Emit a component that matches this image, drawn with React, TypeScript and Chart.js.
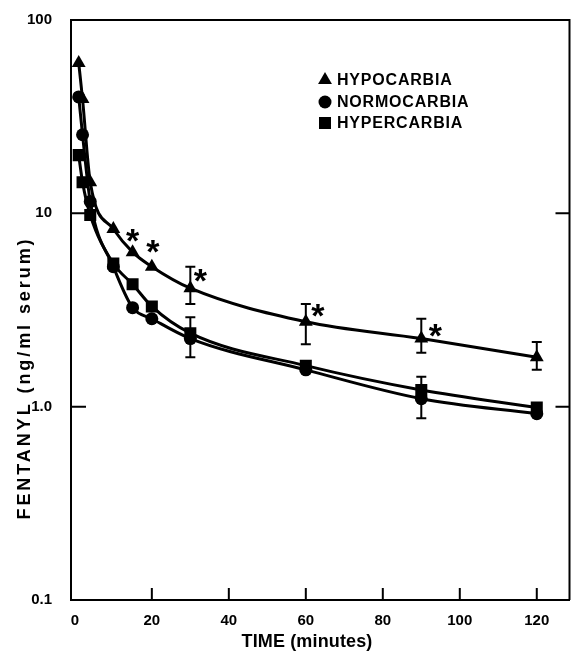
import React, { useEffect, useRef } from 'react';
import { Chart, registerables } from 'chart.js';

Chart.register(...registerables);

// ---- data ----
const TIMES = [1, 2, 4, 10, 15, 20, 30, 60, 90, 120];
const HYPO = [60, 39, 14.5, 8.3, 6.3, 5.3, 4.1, 2.75, 2.25, 1.8];
const NORMO = [40, 25.5, 11.5, 5.3, 3.25, 2.85, 2.25, 1.55, 1.1, 0.92];
const HYPER = [20, 14.5, 9.8, 5.5, 4.3, 3.3, 2.4, 1.63, 1.22, 0.99];

const HYPO_ERR_HI = [null, null, null, null, null, null, 5.3, 3.4, 2.85, 2.16];
const HYPO_ERR_LO = [null, null, null, null, null, null, 3.4, 2.1, 1.9, 1.55];
const NORMO_ERR_LO = [null, null, null, null, null, null, 1.8, null, 0.87, null];
const HYPER_ERR_HI = [null, null, null, null, null, null, 2.9, null, 1.43, null];

const SIGNIFICANT_TIMES = [15, 20, 30, 60, 90];

const X_TICKS = [0, 20, 40, 60, 80, 100, 120];
const Y_TICKS = [0.1, 1, 10, 100];
const Y_TICK_LABELS = ['0.1', '1.0', '10', '100'];

const SERIES_NAMES = ['HYPOCARBIA', 'NORMOCARBIA', 'HYPERCARBIA'];
const X_TITLE = 'TIME (minutes)';
const Y_TITLE = 'FENTANYL (ng/ml serum)';

const FONT = '"Liberation Sans", Arial, sans-serif';

function pts(vals: number[]) {
  return TIMES.map((t, i) => ({ x: t, y: vals[i] }));
}

function drawMarker(ctx: CanvasRenderingContext2D, kind: string, x: number, y: number) {
  ctx.beginPath();
  if (kind === 'triangle') {
    const r = 8;
    ctx.moveTo(x, y - r);
    ctx.lineTo(x + r * 0.866, y + r * 0.5);
    ctx.lineTo(x - r * 0.866, y + r * 0.5);
    ctx.closePath();
  } else if (kind === 'circle') {
    ctx.arc(x, y, 6.5, 0, Math.PI * 2);
  } else {
    ctx.rect(x - 6, y - 6, 12, 12);
  }
  ctx.fill();
}

const decorPlugin = {
  id: 'decor',
  beforeDatasetsDraw(chart: any) {
    const { ctx, chartArea: a, scales } = chart;
    const xs = scales.x;
    const ys = scales.y;
    ctx.save();
    ctx.strokeStyle = '#000';
    ctx.lineWidth = 2;
    ctx.beginPath();
    ctx.moveTo(a.left, a.top);
    ctx.lineTo(a.right, a.top);
    ctx.lineTo(a.right, a.bottom);
    ctx.stroke();
    ctx.beginPath();
    X_TICKS.forEach((t) => {
      if (t === 0) return;
      const px = xs.getPixelForValue(t);
      ctx.moveTo(px, a.bottom);
      ctx.lineTo(px, a.bottom - 12);
    });
    [1, 10].forEach((v) => {
      const py = ys.getPixelForValue(v);
      ctx.moveTo(a.left, py);
      ctx.lineTo(a.left + 15, py);
      ctx.moveTo(a.right, py);
      ctx.lineTo(a.right - 14, py);
    });
    ctx.stroke();

    const bar = (t: number, v: number, e: number | null) => {
      if (e == null) return;
      const px = xs.getPixelForValue(t);
      const p0 = ys.getPixelForValue(v);
      const p1 = ys.getPixelForValue(e);
      ctx.beginPath();
      ctx.moveTo(px, p0);
      ctx.lineTo(px, p1);
      ctx.moveTo(px - 5, p1);
      ctx.lineTo(px + 5, p1);
      ctx.stroke();
    };
    ctx.lineWidth = 2;
    TIMES.forEach((t, i) => {
      bar(t, HYPO[i], HYPO_ERR_HI[i]);
      bar(t, HYPO[i], HYPO_ERR_LO[i]);
      bar(t, NORMO[i], NORMO_ERR_LO[i]);
      bar(t, HYPER[i], HYPER_ERR_HI[i]);
    });
    ctx.restore();
  },
  afterDraw(chart: any) {
    const { ctx, scales } = chart;
    const xs = scales.x;
    const ys = scales.y;
    ctx.save();
    ctx.fillStyle = '#000';

    const offs = [
      [0, -14],
      [1, -18],
      [10, -10],
      [12, -9],
      [14, -6],
    ];
    ctx.font = `bold 34px ${FONT}`;
    ctx.textAlign = 'center';
    ctx.textBaseline = 'alphabetic';
    SIGNIFICANT_TIMES.forEach((t, k) => {
      const i = TIMES.indexOf(t);
      const px = xs.getPixelForValue(t) + offs[k][0];
      const py = ys.getPixelForValue(HYPO[i]) + offs[k][1];
      ctx.fillText('*', px, py + 14);
    });

    const kinds = ['triangle', 'circle', 'rect'];
    const rowY = [80, 102, 123];
    ctx.font = `bold 16px ${FONT}`;
    ctx.textAlign = 'left';
    ctx.textBaseline = 'middle';
    (ctx as any).letterSpacing = '0.8px';
    SERIES_NAMES.forEach((name, i) => {
      drawMarker(ctx, kinds[i], 325, rowY[i]);
      ctx.fillText(name, 337, rowY[i] + 1);
    });

    ctx.font = `bold 18px ${FONT}`;
    (ctx as any).letterSpacing = '0px';
    const wx = ctx.measureText(X_TITLE).width;
    (ctx as any).letterSpacing = `${(131 - wx) / X_TITLE.length}px`;
    ctx.textAlign = 'center';
    ctx.fillText(X_TITLE, 307, 642);

    (ctx as any).letterSpacing = '0px';
    const wy = ctx.measureText(Y_TITLE).width;
    (ctx as any).letterSpacing = `${(283 - wy) / Y_TITLE.length}px`;
    ctx.translate(25, 378);
    ctx.rotate(-Math.PI / 2);
    ctx.fillText(Y_TITLE, 0, 0);
    ctx.restore();
  },
};

export default function App() {
  const ref = useRef<HTMLCanvasElement>(null);
  useEffect(() => {
    document.body.style.margin = '0';
    const line = (data: number[], style: string, r: number) => ({
      data: pts(data),
      borderColor: '#000',
      backgroundColor: '#000',
      borderWidth: 3,
      pointStyle: style,
      pointRadius: r,
      pointBackgroundColor: '#000',
      pointBorderColor: '#000',
      pointBorderWidth: 0,
      cubicInterpolationMode: 'monotone',
      fill: false,
    });
    const chart = new Chart(ref.current!, {
      type: 'line',
      data: {
        datasets: [
          { label: SERIES_NAMES[0], ...line(HYPO, 'triangle', 8) },
          { label: SERIES_NAMES[1], ...line(NORMO, 'circle', 6.5) },
          { label: SERIES_NAMES[2], ...line(HYPER, 'rect', 8.5) },
        ] as any,
      },
      options: {
        responsive: false,
        animation: false,
        devicePixelRatio: 1,
        layout: { padding: { top: 16, right: 4, left: 0, bottom: 0 } },
        plugins: { legend: { display: false }, tooltip: { enabled: false } },
        scales: {
          x: {
            type: 'linear',
            min: -1,
            max: 128.5,
            grid: { display: false },
            border: { display: true, color: '#000', width: 2 },
            afterBuildTicks: (s: any) => {
              s.ticks = X_TICKS.map((v) => ({ value: v }));
            },
            afterFit: (s: any) => {
              s.height = 58;
            },
            ticks: {
              autoSkip: false,
              maxRotation: 0,
              padding: 4,
              color: '#000',
              font: { family: FONT, weight: 'bold', size: 15 },
              callback: (v: any) => String(v),
            },
          },
          y: {
            type: 'logarithmic',
            min: 0.1,
            max: 100,
            grid: { display: false },
            border: { display: true, color: '#000', width: 2 },
            afterBuildTicks: (s: any) => {
              s.ticks = Y_TICKS.map((v) => ({ value: v }));
            },
            afterFit: (s: any) => {
              s.width = 71;
            },
            ticks: {
              autoSkip: false,
              padding: 11,
              color: '#000',
              font: { family: FONT, weight: 'bold', size: 15 },
              callback: (_v: any, i: number) => Y_TICK_LABELS[i],
            },
          },
        },
      } as any,
      plugins: [decorPlugin],
    });
    return () => chart.destroy();
  }, []);
  return <canvas ref={ref} width={578} height={658} style={{ display: 'block' }} />;
}
